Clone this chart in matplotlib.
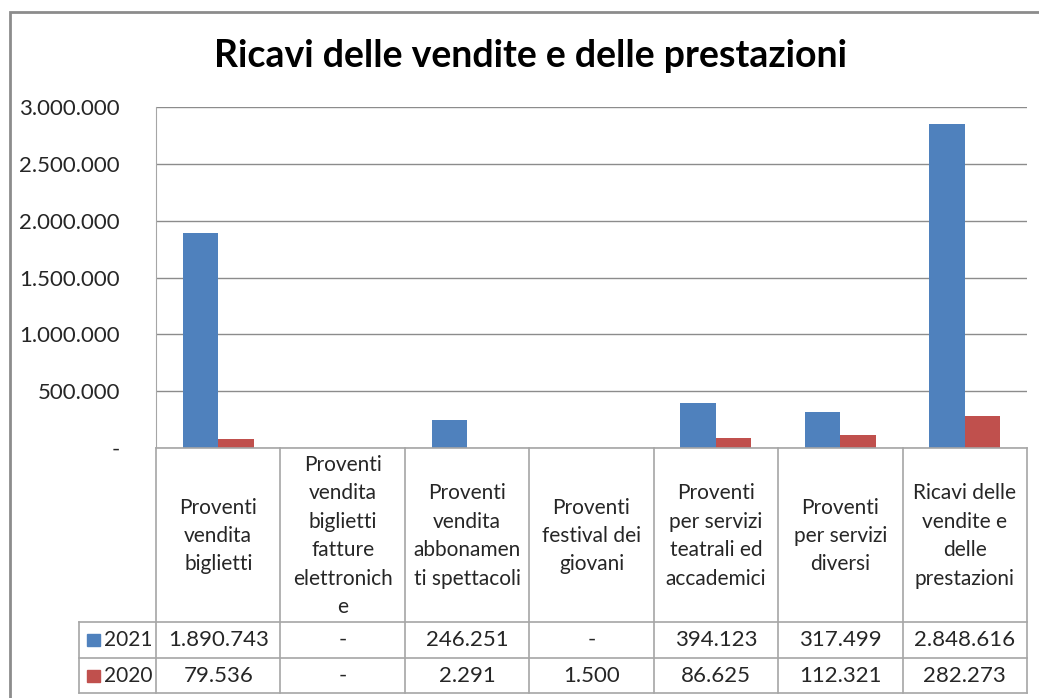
import numpy as np
import matplotlib
matplotlib.use("Agg")
import matplotlib.pyplot as plt
from matplotlib.lines import Line2D
from matplotlib.patches import Rectangle
import matplotlib.transforms as mtransforms

categories = [
    "Proventi\nvendita\nbiglietti",
    "Proventi\nvendita\nbiglietti\nfatture\nelettronich\ne",
    "Proventi\nvendita\nabbonamen\nti spettacoli",
    "Proventi\nfestival dei\ngiovani",
    "Proventi\nper servizi\nteatrali ed\naccademici",
    "Proventi\nper servizi\ndiversi",
    "Ricavi delle\nvendite e\ndelle\nprestazioni",
]
series_names = ["2021", "2020"]
values_2021 = [1890743, 0, 246251, 0, 394123, 317499, 2848616]
values_2020 = [79536, 0, 2291, 1500, 86625, 112321, 282273]
y_ticks = [0, 500000, 1000000, 1500000, 2000000, 2500000, 3000000]

colors = ["#4F81BD", "#C0504D"]
line_col = "#A6A6A6"
txt_col = "#262626"
font = "Lato"
fs = 15

W, H = 1039, 698
fig = plt.figure(figsize=(W / 100, H / 100), dpi=100)

def fx(px):
    return px / W

def fy(py):
    return 1 - py / H

def fmt(v):
    if v == 0:
        return "-"
    return f"{v:,}".replace(",", ".")

# plot area in pixels
left, right, top, zero = 156, 1027, 107, 448
ax = fig.add_axes([fx(left), fy(zero), fx(right - left), fy(top) - fy(zero)])

n = len(categories)
x = np.arange(n)
bw = 1 / 3.5
ax.bar(x - bw / 2, values_2021, bw, color=colors[0], zorder=3)
ax.bar(x + bw / 2, values_2020, bw, color=colors[1], zorder=3)

ax.set_xlim(-0.5, n - 0.5)
ax.set_ylim(0, 3000000)
ax.set_yticks(y_ticks)
ax.set_yticklabels([fmt(v) for v in y_ticks], fontsize=16, family=font, color=txt_col)
ax.tick_params(axis="y", length=0, pad=26)
ax.set_xticks([])
ax.grid(axis="y", color="#8C8C8C", linewidth=1, zorder=0)
for s in ["top", "right", "bottom"]:
    ax.spines[s].set_visible(False)
ax.spines["left"].set_color(line_col)

# title
fig.text(fx(531), fy(56), "Ricavi delle vendite e delle prestazioni",
         ha="center", va="center", fontsize=27, fontweight="bold", family=font)

# outer chart border
fig.add_artist(Rectangle((fx(10), fy(720)), fx(1060), fy(12) - fy(720),
                         transform=fig.transFigure, fill=False,
                         edgecolor="#8C8C8C", linewidth=2))

# data table
hdr_bot, r1_bot, r2_bot = 622, 658, 693
leg_left = 79
trans = mtransforms.blended_transform_factory(ax.transData, fig.transFigure)

def hline(x0, x1, y):
    fig.add_artist(Line2D([fx(x0), fx(x1)], [fy(y), fy(y)],
                          transform=fig.transFigure, color=line_col, lw=1.2))

def vline(xp, y0, y1):
    fig.add_artist(Line2D([fx(xp), fx(xp)], [fy(y0), fy(y1)],
                          transform=fig.transFigure, color=line_col, lw=1.2))

hline(left, right, zero)
for yy in [hdr_bot, r1_bot, r2_bot]:
    hline(leg_left, right, yy)
vline(leg_left, hdr_bot, r2_bot)
col_w = (right - left) / n
for k in range(n + 1):
    vline(left + k * col_w, zero, r2_bot)

for i, cat in enumerate(categories):
    ax.text(i, fy((zero + hdr_bot) / 2 + 1), cat, transform=trans, ha="center",
            va="center", fontsize=fs, family=font, linespacing=1.53, color=txt_col)
    ax.text(i, fy((hdr_bot + r1_bot) / 2), fmt(values_2021[i]), transform=trans,
            ha="center", va="center", fontsize=fs + 1, family=font, color=txt_col)
    ax.text(i, fy((r1_bot + r2_bot) / 2), fmt(values_2020[i]), transform=trans,
            ha="center", va="center", fontsize=fs + 1, family=font, color=txt_col)

# legend keys in table
for j, (name, yc) in enumerate(zip(series_names, [(hdr_bot + r1_bot) / 2, (r1_bot + r2_bot) / 2])):
    fig.add_artist(Rectangle((fx(87), fy(yc + 6)), fx(13), fy(yc - 6) - fy(yc + 6),
                             transform=fig.transFigure, color=colors[j]))
    fig.text(fx(104), fy(yc), name, ha="left", va="center", fontsize=fs,
             family=font, color=txt_col)

fig.savefig("out.png", dpi=100)
